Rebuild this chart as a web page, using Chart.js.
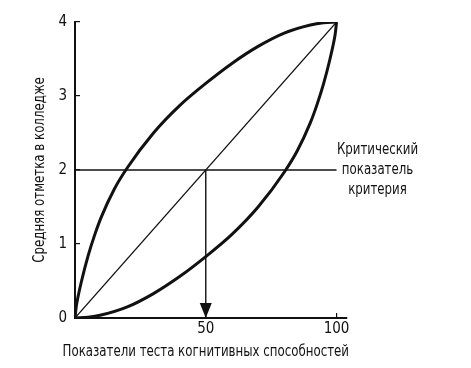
<!DOCTYPE html>
<html>
<head>
<meta charset="utf-8">
<script src="https://cdn.jsdelivr.net/npm/chart.js@4"></script>
<style>
  body { margin: 0; background: #fff; }
</style>
</head>
<body>
<canvas id="grafico" width="471" height="368"></canvas>
<script>
// верхняя и нижняя граница эллипса
const upperX = [0, 0.5, 1, 2.5, 5, 7.5, 10, 15, 20, 30, 40, 50, 60, 70, 80, 90, 95, 100];
const upperY = [0, 0.16, 0.26, 0.5, 0.84, 1.12, 1.36, 1.74, 2.03, 2.5, 2.87, 3.17, 3.44, 3.67, 3.85, 3.96, 3.99, 4];
const lowerX = [0, 5, 10, 20, 30, 40, 50, 60, 70, 80, 85, 90, 92.5, 95, 97.5, 99, 99.5, 100];
const lowerY = [0, 0.01, 0.04, 0.15, 0.33, 0.56, 0.83, 1.13, 1.5, 1.97, 2.26, 2.64, 2.88, 3.16, 3.5, 3.74, 3.84, 4];

// линия регрессии, критический показатель, стрелка
const diagX = [0, 100];
const diagY = [0, 4];
const cutoffX = [0, 100];
const cutoffY = [2, 2];
const arrowX = [50, 50];
const arrowY = [2, 0];

const xTicks = [50, 100];
const yTicks = [0, 1, 2, 3, 4];
const xTitle = 'Показатели теста когнитивных способностей';
const yTitle = 'Средняя отметка в колледже';
const cutoffLabel = ['Критический', 'показатель', 'критерия'];

const FONT = "'Liberation Sans Narrow', 'DejaVu Sans Condensed', sans-serif";
const INK = '#111';
const SQUEEZE = 0.82; // шрифт в оригинале узкий

const toPoints = (xs, ys) => xs.map((x, i) => ({ x: x, y: ys[i] }));

const line = (xs, ys, width, extra) => Object.assign({
    data: toPoints(xs, ys),
    showLine: true,
    borderColor: INK,
    borderWidth: width,
    pointRadius: 0,
    fill: false
}, extra || {});

// узкий текст: сжимаем по горизонтали
function narrowText(ctx, text, x, y, angle) {
    ctx.save();
    ctx.translate(x, y);
    ctx.rotate(angle || 0);
    ctx.scale(SQUEEZE, 1);
    ctx.fillText(text, 0, 0);
    ctx.restore();
}

// подписи осей, подпись справа и наконечник стрелки
const annotations = {
    id: 'annotations',
    afterDatasetsDraw(chart) {
        const ctx = chart.ctx;
        const xs = chart.scales.x, ys = chart.scales.y;
        const area = chart.chartArea;

        const tipX = xs.getPixelForValue(arrowX[1]);
        const tipY = ys.getPixelForValue(arrowY[1]);
        ctx.save();
        ctx.fillStyle = INK;
        ctx.beginPath();
        ctx.moveTo(tipX, tipY);
        ctx.lineTo(tipX - 6, tipY - 15);
        ctx.lineTo(tipX + 6, tipY - 15);
        ctx.closePath();
        ctx.fill();

        ctx.font = '16px ' + FONT;
        ctx.textAlign = 'center';
        ctx.textBaseline = 'middle';

        const cx = xs.getPixelForValue(cutoffX[1]) + 41;
        const cy = ys.getPixelForValue(cutoffY[1]);
        cutoffLabel.forEach((t, i) => narrowText(ctx, t, cx, cy + (i - 1) * 20));

        narrowText(ctx, xTitle, xs.getPixelForValue(50), chart.height - 16);
        narrowText(ctx, yTitle, 40, (area.top + area.bottom) / 2, -Math.PI / 2);
        ctx.restore();
    }
};

new Chart(document.getElementById('grafico'), {
    type: 'scatter',
    data: {
        datasets: [
            line(upperX, upperY, 3, { cubicInterpolationMode: 'monotone' }),
            line(lowerX, lowerY, 3, { cubicInterpolationMode: 'monotone' }),
            line(diagX, diagY, 1.2),
            line(cutoffX, cutoffY, 1.4),
            line(arrowX, arrowY, 1.4)
        ]
    },
    options: {
        responsive: false,
        animation: false,
        layout: { padding: { top: 16, right: 124, left: 0, bottom: 0 } },
        plugins: { legend: { display: false }, tooltip: { enabled: false } },
        scales: {
            x: {
                type: 'linear',
                min: 0,
                max: 104,
                afterBuildTicks: (s) => { s.ticks = xTicks.map(v => ({ value: v })); },
                afterFit: (s) => { s.height = 50; },
                border: { display: true, color: INK, width: 2 },
                grid: { drawOnChartArea: false, tickLength: -5, color: INK, lineWidth: 1.2 },
                ticks: { color: INK, padding: 7, maxRotation: 0, font: { family: FONT, size: 15 } }
            },
            y: {
                type: 'linear',
                min: 0,
                max: 4,
                afterBuildTicks: (s) => { s.ticks = yTicks.map(v => ({ value: v })); },
                afterFit: (s) => { s.width = 75; },
                border: { display: true, color: INK, width: 2 },
                grid: { drawOnChartArea: false, tickLength: -5, color: INK, lineWidth: 1.2 },
                ticks: { color: INK, padding: 13, font: { family: FONT, size: 15 } }
            }
        }
    },
    plugins: [annotations]
});
</script>
</body>
</html>
